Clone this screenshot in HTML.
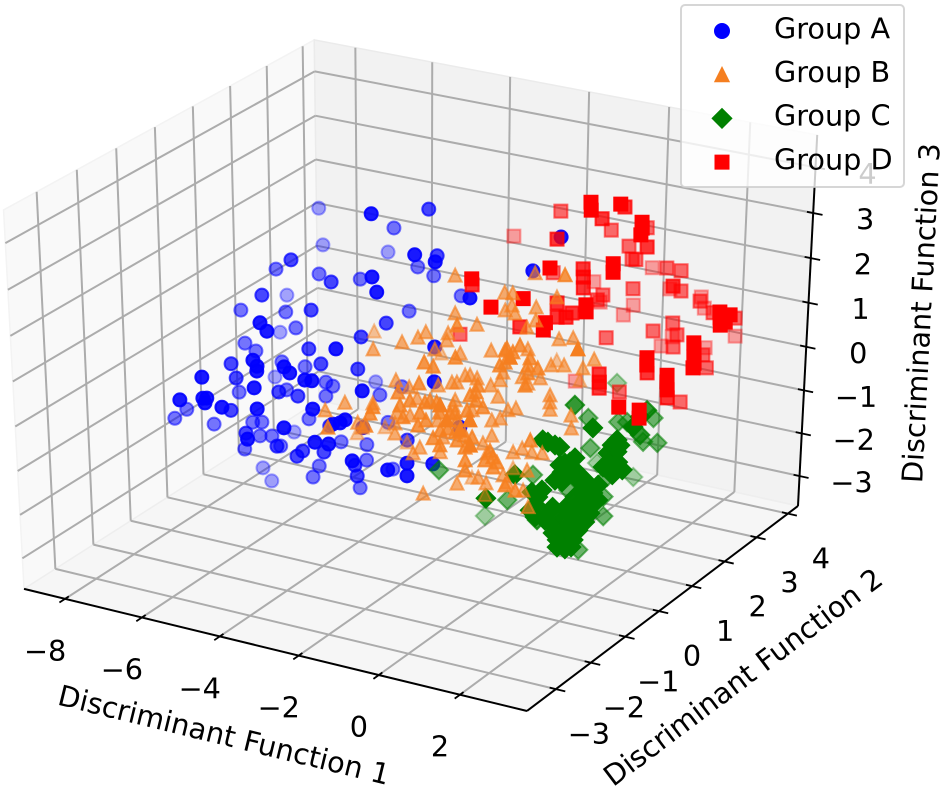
<!DOCTYPE html>
<html lang="en">
<head>
<meta charset="utf-8">
<title>Discriminant function 3D scatter</title>
<style>
html,body{margin:0;padding:0;background:#fff;width:945px;height:791px;overflow:hidden}
svg{display:block}
text{font-family:"DejaVu Sans","Liberation Sans",sans-serif;fill:#000}
</style>
</head>
<body>
<svg id="chart" xmlns="http://www.w3.org/2000/svg" width="945" height="791" viewBox="0 0 945 791">
  <g id="panes"></g>
  <g id="grid"></g>
  <g id="axes"></g>
  <g id="series-a"></g>
  <g id="series-c"></g>
  <g id="series-d"></g>
  <g id="series-b"></g>
  <text x="224" y="735" font-size="28.7" text-anchor="middle" dominant-baseline="central" transform="rotate(13.7 224 735)">Discriminant Function 1</text>
  <text x="743" y="677" font-size="28.7" text-anchor="middle" dominant-baseline="central" transform="rotate(-37 743 677)">Discriminant Function 2</text>
  <text x="921" y="313" font-size="28.7" text-anchor="middle" dominant-baseline="central" transform="rotate(-87 921 313)">Discriminant Function 3</text>
  <g id="legend">
    <rect x="681" y="5" width="223" height="182" rx="4" ry="4" fill="#fff" fill-opacity="0.8" stroke="#ccc" stroke-opacity="0.8" stroke-width="2"></rect>
  </g>
</svg>
<script>
// Axis limits and ticks
const xLim = [-9.08, 3.63];
const yLim = [-3.81, 4.326];
const zLim = [-3.711, 4.703];
const xTicks = [-8, -6, -4, -2, 0, 2];
const yTicks = [-3, -2, -1, 0, 1, 2, 3, 4];
const zTicks = [-3, -2, -1, 0, 1, 2, 3, 4];
const xTickLabels = ['\u22128', '\u22126', '\u22124', '\u22122', '0', '2'];
const yTickLabels = ['\u22123', '\u22122', '\u22121', '0', '1', '2', '3', '4'];
const zTickLabels = ['\u22123', '\u22122', '\u22121', '0', '1', '2', '3', '4'];
const legendLabels = ['Group A', 'Group B', 'Group C', 'Group D'];

// Series values (data units)
const groupAX = [-6.60,-3.84,-3.36,-4.44,-6.25,-4.94,-2.73,-2.86,-2.30,-3.70,
-3.33,-5.59,-6.39,-5.53,-4.67,-4.71,-3.37,-3.17,-2.66,-1.39,
-5.88,-6.57,-6.75,-5.88,-4.84,-3.54,-3.33,-5.13,-4.94,-6.42,
-5.57,-6.43,-3.70,-6.16,-4.60,-3.52,-1.69,-5.96,-4.99,-4.87,
-4.84,-5.59,-4.36,-4.21,-5.11,-4.26,-3.53,-5.82,-5.76,-4.77,
-6.18,-6.19,-3.88,-3.74,-4.60,-4.44,-4.21,-2.73,-3.48,-1.45,
-3.12,-4.85,-5.29,-4.46,-4.50,-6.07,-5.58,-7.05,-7.21,-5.58,
-5.23,-5.62,-6.42,-4.56,-5.70,-5.53,-5.17,-4.52,-5.46,-5.23,
-5.65,-4.49,-4.99,-3.92,-5.41,-5.74,-5.47,-4.04,-3.97,-3.24,
-2.97,-3.56,-3.87,-4.65,-3.52,-4.11,-4.15,-2.41,-2.88,-3.25,
-3.36,-2.76,-3.17,-1.68,-2.68,-2.91,-2.84,-3.04,-2.45,-3.64,
-1.37,-1.28,-0.88,-3.12,-2.08,-0.64,-0.13,-0.41,-5.65];
const groupAY = [1.76,0.23,1.29,1.51,1.49,1.89,0.20,0.97,0.29,1.36,
1.40,-0.08,0.35,0.61,0.02,0.86,-0.27,-0.36,1.43,0.24,
-0.57,0.82,-0.24,0.06,-0.35,0.94,0.07,-1.41,-1.43,0.46,
0.00,-0.48,-0.22,-0.47,-0.68,-1.10,-0.40,-1.34,-1.76,-1.78,
-1.82,-0.37,-1.60,-1.61,-0.25,-0.72,-0.50,-2.25,-1.42,-1.97,
-0.92,0.06,-1.56,-1.52,-0.23,-0.21,0.73,-1.25,0.05,-0.68,
0.27,-1.24,-0.57,-1.14,-0.34,-2.58,-2.38,-1.43,-1.59,-2.43,
-2.35,-1.72,-1.36,-2.12,-1.07,-1.00,-1.80,-2.43,-1.13,-1.05,
-1.35,-1.69,-1.07,-2.09,-0.26,-0.78,-0.83,-1.63,-1.55,-1.99,
-1.91,-1.41,-0.61,-0.65,-1.74,-0.96,-1.09,-1.88,-1.30,-0.58,
-0.45,-1.37,-0.85,-1.71,-0.47,-1.66,-1.60,-1.72,-1.54,-1.16,
-1.52,-1.62,-1.35,-0.12,-0.73,-0.87,1.36,0.89,-2.41];
const groupAZ = [2.53,3.62,3.30,2.59,1.90,1.78,2.94,2.52,2.82,1.93,
1.78,2.45,1.89,1.81,2.08,1.72,2.57,2.32,1.44,2.22,
1.86,1.04,1.20,1.17,1.61,1.18,1.39,1.81,1.67,0.41,
0.90,0.64,1.16,0.51,0.96,1.38,1.41,0.71,1.19,1.09,
1.01,0.32,1.08,0.98,0.24,0.71,0.62,0.91,0.47,0.73,
-0.19,-0.36,0.86,0.85,-0.02,-0.09,-0.44,0.68,-0.24,0.83,
-0.10,0.24,-0.15,0.17,-0.26,0.53,0.56,-0.48,-0.63,0.48,
0.41,-0.07,-0.73,0.38,-0.70,-0.70,-0.45,-0.12,-0.93,-0.93,
-1.15,-0.67,-1.10,0.07,-1.30,-1.91,-2.13,-0.84,-0.75,-0.17,
-0.20,-0.77,-1.03,-0.64,0.38,-1.44,-1.63,-0.48,-0.99,-1.34,
-1.08,-1.17,-1.81,-0.63,-1.49,0.15,0.20,0.13,0.07,-0.33,
-0.52,-0.73,-0.53,-0.70,-0.57,0.08,3.23,2.67,0.56];

const groupBX = [-2.93,-4.62,-3.95,-3.45,-3.18,-3.07,-2.65,-2.15,-1.98,-2.64,
-2.61,-2.77,-3.17,-2.26,-1.78,-2.33,-2.13,-1.69,-0.87,-0.65,
-1.00,-0.80,-0.21,-1.30,-1.30,-0.35,-0.29,-0.90,-0.55,-0.75,
-0.44,-0.89,-0.19,-0.48,-0.22,1.00,0.34,0.19,-0.30,-0.24,
-0.19,-0.13,0.31,0.41,-3.28,-2.27,-2.98,-2.60,-4.09,-2.75,
-1.94,-2.44,-2.20,-2.11,-2.00,-1.91,-1.75,-1.44,-1.22,-1.13,
-1.07,-1.61,-0.89,-2.01,-1.17,-2.01,-1.47,-0.94,-1.29,-1.40,
-1.87,-2.76,-3.03,-2.33,-2.97,-2.98,-3.70,-3.70,-2.98,-2.91,
-3.16,-1.99,-2.19,-2.33,-2.42,-1.61,-1.91,-1.97,-1.14,-0.88,
-0.94,-0.84,-0.77,-1.05,-1.16,-1.02,-0.93,-0.79,-1.16,-1.01,
-0.34,-0.26,-1.65,-1.36,-1.00,-0.81,-1.93,-0.52,-0.38,0.24,
-0.16,0.04,-0.54,0.32,-0.41,-0.12,-0.93,-1.27,0.17,-0.05,
-1.42,-0.31,-0.83,-1.86,-1.70,-1.63,-1.72,-1.51,-1.15,-1.06,-1.18,
-3.67,-4.41,-4.19,-3.58,-3.55,
-1.17,-0.62,-0.51,-0.32,
-1.67,-1.38,-1.53,-1.24,-2.02,-1.80,-1.22,-1.15,-1.03,-0.44,
-0.23,-0.47,-0.89,-0.73,-0.88,-0.36,-0.14,-0.26,-2.32,-2.47,
-2.04,-1.43,-2.97,0.09];
const groupBY = [1.56,1.14,0.38,0.64,0.79,0.89,1.25,1.31,0.55,1.04,
0.97,0.81,1.44,0.96,0.28,0.02,0.05,1.20,0.71,0.83,
1.47,0.58,0.04,1.02,1.10,0.72,0.65,1.20,1.32,1.19,
1.50,2.20,1.59,1.77,1.88,0.57,1.85,1.70,2.20,1.25,
1.19,1.13,1.23,1.13,0.28,-0.19,0.32,-0.41,-0.26,0.29,
-0.25,0.54,0.66,0.70,0.81,0.85,0.87,0.91,0.87,0.14,
0.07,0.58,0.06,0.54,-0.07,0.48,-0.21,-0.90,-0.22,-0.35,
-0.44,0.10,0.03,-0.57,-0.70,-0.77,-0.33,0.43,-0.08,-0.16,
0.46,-0.53,0.25,-0.10,-0.19,-0.53,0.01,0.15,-0.38,-0.25,
-0.38,-0.49,-0.57,0.51,0.63,0.71,0.83,0.90,0.38,0.33,
-0.27,-0.35,0.63,-0.13,0.07,0.08,-0.45,0.52,0.62,0.13,
0.65,0.72,0.26,-0.38,0.23,0.47,1.00,0.58,0.18,0.28,
2.14,1.71,2.10,1.77,1.82,1.72,1.63,1.67,1.87,1.76,1.64,
-1.18,-0.46,0.18,-0.34,-0.07,
-0.83,-0.89,-0.74,-0.94,
-0.28,-0.17,-0.42,-0.33,-0.30,-0.22,0.07,0.21,-0.29,-0.24,
-0.28,-0.35,0.68,0.72,0.52,0.79,0.76,0.54,-0.39,-0.50,
-0.42,-0.54,-0.90,-0.41];
const groupBZ = [1.79,0.43,0.54,0.66,0.74,0.83,1.15,0.96,1.36,0.81,
0.69,0.54,0.05,0.47,0.82,0.74,0.67,0.52,0.97,1.02,
0.54,0.74,1.24,0.02,0.15,0.69,0.56,0.07,0.05,-0.04,
0.27,-0.07,0.27,0.71,0.73,1.38,0.37,0.22,-0.41,-0.24,
-0.36,-0.48,-0.58,-0.80,0.02,0.39,-0.10,0.24,-0.36,-0.29,
0.10,-0.07,-0.02,-0.02,0.10,0.10,0.05,-0.07,-0.26,0.24,
0.10,-0.49,-0.01,-0.32,-0.07,-0.41,-0.12,0.20,-0.23,-0.37,
-0.23,-0.58,-0.53,-0.18,-0.01,-0.12,-0.70,-1.21,-0.71,-0.88,
-1.47,-0.32,-0.66,-1.12,-1.22,-0.53,-1.20,-0.95,-0.57,-0.52,
-0.69,-0.90,-1.07,-0.92,-0.66,-0.63,-0.49,-0.46,-1.05,-1.22,
-0.85,-1.02,-2.07,-1.73,-1.63,-1.73,-1.90,-1.20,-1.14,-0.57,
-1.20,-1.22,-1.59,-1.41,-1.71,-1.51,-1.91,-2.37,-2.13,-1.85,
1.83,2.20,1.42,1.50,1.49,1.28,1.20,1.15,1.25,1.03,0.91,
-0.35,-0.49,-1.31,-0.78,-0.37,
0.45,0.03,0.20,-0.22,
-0.10,-0.10,-0.40,-0.43,0.07,0.07,0.19,0.35,-0.48,-0.74,
-0.94,-0.90,0.94,0.91,0.69,0.81,0.64,0.35,0.10,0.02,
-0.10,-0.65,-0.32,-1.32];

const groupCX = [1.81,1.98,2.16,1.86,2.07,2.25,1.99,2.15,2.29,2.04,
2.20,2.30,1.32,1.39,1.41,1.62,2.08,2.22,2.13,2.32,
2.24,2.39,2.22,2.41,1.58,1.67,1.59,1.69,1.66,1.82,
1.11,1.26,1.00,1.37,2.33,2.47,2.31,2.41,2.56,2.47,
2.32,1.85,0.83,0.73,0.36,-0.28,-1.11,0.03,0.95,0.66,
0.92,0.65,1.45,1.45,1.53,1.67,0.81,1.44,1.26,1.43,
2.28,1.88,2.16,1.90,2.23,2.65,2.59,0.44,-1.80,2.01,2.38,
1.17,1.35,1.27,1.67,1.91,2.31,1.86,2.13,2.36,2.46,
1.95,1.50,1.52,1.73,2.48,2.70,2.55,2.39];
const groupCY = [-0.90,-0.87,-0.85,-1.01,-0.97,-0.90,-1.10,-1.06,-0.99,-1.16,
-1.12,-1.06,-0.89,-0.97,-1.07,-1.03,-0.43,-0.45,-0.55,-0.48,
-0.61,-0.56,-0.73,-0.66,-0.43,-0.39,-0.52,-0.50,-0.60,-0.42,
-0.38,-0.35,-0.40,-0.34,0.04,0.02,-0.05,-0.11,-0.06,-0.18,
-0.20,0.04,0.72,-0.87,-1.26,0.09,0.40,0.47,-0.47,1.33,
1.10,1.64,0.98,1.78,0.79,0.63,0.60,0.18,1.51,1.57,
0.93,1.52,1.61,1.79,1.18,0.46,0.33,2.44,-0.15,-0.63,-0.77,
-0.89,-0.81,-1.05,-0.87,-0.79,-0.88,-1.07,-0.68,-0.38,-0.50,
-0.48,-0.48,-0.64,-0.32,0.09,-0.09,-0.20,0.11];
const groupCZ = [-1.38,-1.43,-1.49,-1.58,-1.63,-1.63,-1.79,-1.83,-1.79,-1.91,
-1.94,-1.91,-1.08,-1.25,-1.41,-1.46,-0.80,-0.91,-1.01,-1.01,
-1.18,-1.18,-1.35,-1.35,-0.52,-0.50,-0.67,-0.68,-0.83,-0.63,
-0.17,-0.22,-0.13,-0.25,-0.22,-0.33,-0.35,-0.50,-0.50,-0.63,
-0.58,0.07,0.02,-0.71,-1.10,-2.02,-2.73,-1.59,-1.91,-0.63,
-1.14,-1.83,-1.63,-2.07,-1.96,-2.29,-1.85,-2.86,-0.70,-0.70,
-0.48,-1.03,-1.05,-0.63,-0.07,0.25,0.08,-0.46,-1.51,-1.08,-1.49,
-1.00,-0.96,-1.30,-1.25,-1.26,-1.63,-1.68,-1.21,-0.88,-1.13,
-0.80,-0.55,-0.80,-0.43,-0.22,-0.63,-0.71,-0.13];

const groupDX = [0.18,0.24,0.75,0.33,-1.39,-0.02,-0.29,1.28,1.32,0.38,
1.35,0.17,1.04,0.32,0.40,0.26,1.05,1.34,1.04,1.10,
-0.72,-2.64,-0.11,-1.08,-0.01,0.05,0.13,-0.76,0.03,-0.04,
-0.49,0.56,0.17,1.81,0.76,1.49,0.05,0.83,0.88,0.10,
0.02,-0.25,-0.15,-0.39,0.20,0.21,-0.78,0.41,1.25,1.57,
1.74,1.16,1.01,1.75,1.42,1.93,1.56,2.26,3.38,3.43,
3.48,3.59,2.72,2.36,3.12,3.17,3.22,3.27,3.28,1.87,
2.38,2.54,2.35,2.40,1.96,2.85,2.90,2.96,2.52,2.29,
1.06,1.12,1.16,-0.38,1.06,2.18,2.58,2.64,-1.49,-1.99,
-2.40,-0.93,3.55];
const groupDY = [1.84,1.78,2.03,2.67,2.83,2.42,3.03,2.03,1.99,3.30,
1.92,3.02,2.50,2.94,2.96,3.64,3.11,3.19,1.50,1.43,
1.94,2.92,1.03,2.27,1.88,1.82,1.73,3.11,2.44,2.36,
2.99,2.70,3.20,2.37,3.59,3.02,3.05,0.98,0.93,1.45,
1.37,1.42,1.31,0.60,0.56,0.49,0.97,2.11,2.50,2.70,
2.63,3.21,3.06,2.51,3.75,3.07,3.68,3.07,1.85,1.80,
1.75,1.90,3.18,3.67,1.42,1.37,1.31,1.26,1.22,3.36,
2.65,2.57,0.98,0.92,1.48,0.98,0.92,0.86,1.42,2.11,
1.14,1.08,1.03,2.16,1.76,0.39,0.51,0.44,0.40,0.98,
1.11,0.31,1.81];
const groupDZ = [3.81,3.68,3.78,3.34,2.87,3.14,2.55,3.48,3.38,2.59,
3.27,2.28,2.67,2.06,2.05,1.51,1.91,1.86,2.79,2.65,
2.80,2.05,2.72,1.83,2.30,2.16,1.98,1.27,1.45,1.37,
0.92,1.56,0.87,2.01,1.15,1.52,0.70,2.11,1.99,1.56,
1.49,1.73,1.49,2.21,1.81,1.69,1.33,0.73,0.84,0.98,
0.78,0.33,0.17,0.57,1.01,1.35,0.82,1.15,1.99,1.89,
1.77,1.94,1.06,0.34,1.48,1.36,1.24,1.14,1.06,0.14,
0.44,0.22,1.23,1.11,0.56,0.94,0.83,0.70,0.14,-0.36,
0.54,0.40,0.30,-0.43,-0.19,0.41,0.36,0.23,2.54,2.03,
0.79,2.07,1.82];

const SVG_NS = 'http://www.w3.org/2000/svg';
const elev = 30 * Math.PI / 180;
const azim = -60 * Math.PI / 180;
const viewW = [Math.cos(elev) * Math.cos(azim), Math.cos(elev) * Math.sin(azim), Math.sin(elev)];
const viewU = [-Math.sin(azim), Math.cos(azim), 0];
const viewV = [-Math.sin(elev) * Math.cos(azim), -Math.sin(elev) * Math.sin(azim), Math.cos(elev)];

function project(x, y, z) {
  const a = (x - xLim[0]) / (xLim[1] - xLim[0]) - 0.5;
  const b = (y - yLim[0]) / (yLim[1] - yLim[0]) - 0.5;
  const c = (z - zLim[0]) / (zLim[1] - zLim[0]) - 0.5;
  const xv = viewU[0] * a + viewU[1] * b + viewU[2] * c;
  const yv = viewV[0] * a + viewV[1] * b + viewV[2] * c;
  const depth = viewW[0] * a + viewW[1] * b + viewW[2] * c;
  const d = 10 - depth;
  return { sx: 417 + 5806 * xv / d, sy: 364 - 4327 * yv / d, depth: depth };
}

function make(tag, attrs, parent) {
  const el = document.createElementNS(SVG_NS, tag);
  Object.keys(attrs).forEach(function (k) { el.setAttribute(k, attrs[k]); });
  parent.appendChild(el);
  return el;
}

function segment(p, q, stroke, width, parent) {
  return make('line', { x1: p.sx, y1: p.sy, x2: q.sx, y2: q.sy, stroke: stroke, 'stroke-width': width }, parent);
}

function polyPoints(corners) {
  return corners.map(function (c) {
    const p = project(c[0], c[1], c[2]);
    return p.sx + ',' + p.sy;
  }).join(' ');
}

const X0 = xLim[0], X1 = xLim[1], Y0 = yLim[0], Y1 = yLim[1], Z0 = zLim[0], Z1 = zLim[1];
const xSpan = X1 - X0, ySpan = Y1 - Y0;

// Panes
const panesG = document.getElementById('panes');
const leftPane = make('polygon', { points: polyPoints([[X0,Y0,Z0],[X0,Y1,Z0],[X0,Y1,Z1],[X0,Y0,Z1]]), fill: '#f9f9f9', stroke: '#f3f3f3', 'stroke-width': 1.5 }, panesG);


const backPane = make('polygon', { points: polyPoints([[X0,Y1,Z0],[X1,Y1,Z0],[X1,Y1,Z1],[X0,Y1,Z1]]), fill: '#f2f2f2', stroke: '#ebebeb', 'stroke-width': 1.5 }, panesG);


const floorPane = make('polygon', { points: polyPoints([[X0,Y0,Z0],[X1,Y0,Z0],[X1,Y1,Z0],[X0,Y1,Z0]]), fill: '#f6f6f6', stroke: '#eeeeee', 'stroke-width': 1.5 }, panesG);



// Grid
const gridG = document.getElementById('grid');
const GRID = '#acacac', GW = 2;
xTicks.forEach(function (t) {
  const floorLine = segment(project(t, Y0, Z0), project(t, Y1, Z0), GRID, GW, gridG);
  
  
  const wallLine = segment(project(t, Y1, Z0), project(t, Y1, Z1), GRID, GW, gridG);
  
  
});
yTicks.forEach(function (t) {
  const floorLine = segment(project(X0, t, Z0), project(X1, t, Z0), GRID, GW, gridG);
  
  
  const wallLine = segment(project(X0, t, Z0), project(X0, t, Z1), GRID, GW, gridG);
  
  
});
zTicks.forEach(function (t) {
  const leftLine = segment(project(X0, Y0, t), project(X0, Y1, t), GRID, GW, gridG);
  
  
  const backLine = segment(project(X0, Y1, t), project(X1, Y1, t), GRID, GW, gridG);
  
  
});

// Axes, ticks, tick labels
const axesG = document.getElementById('axes');
const xAxisLine = segment(project(X0, Y0, Z0), project(X1, Y0, Z0), '#000', 2, axesG);


const yAxisLine = segment(project(X1, Y0, Z0), project(X1, Y1, Z0), '#000', 2, axesG);


const zAxisLine = segment(project(X1, Y1, Z0), project(X1, Y1, Z1), '#000', 2, axesG);



function tickLabel(p, dx, dy, label, parent) {
  const t = make('text', { x: p.sx + dx, y: p.sy + dy, 'font-size': 28.7, 'text-anchor': 'middle', 'dominant-baseline': 'central' }, parent);
  t.textContent = label;
  return t;
}

xTicks.forEach(function (t, i) {
  const mark = segment(project(t, Y0 + 0.012 * ySpan, Z0), project(t, Y0 - 0.018 * ySpan, Z0), '#000', 1.8, axesG);
  
  
  const lab = tickLabel(project(t, Y0, Z0), -20, 52, xTickLabels[i], axesG);
  
  
});
yTicks.forEach(function (t, i) {
  const mark = segment(project(X1 - 0.012 * xSpan, t, Z0), project(X1 + 0.018 * xSpan, t, Z0), '#000', 1.8, axesG);
  
  
  const lab = tickLabel(project(X1, t, Z0), 33, 45, yTickLabels[i], axesG);
  
  
});
zTicks.forEach(function (t, i) {
  const mark = segment(project(X1 - 0.012 * xSpan, Y1, t), project(X1 + 0.018 * xSpan, Y1, t), '#000', 1.8, axesG);
  
  
  const lab = tickLabel(project(X1, Y1, t), 52, 6.5, zTickLabels[i], axesG);
  
  
});

// Markers
function markerPath(kind, cx, cy) {
  const r = 6.5, h = 9.2;
  if (kind === 'triangle') return 'M' + cx + ',' + (cy - r) + 'L' + (cx + r) + ',' + (cy + r) + 'L' + (cx - r) + ',' + (cy + r) + 'Z';
  if (kind === 'diamond') return 'M' + cx + ',' + (cy - h) + 'L' + (cx + h) + ',' + cy + 'L' + cx + ',' + (cy + h) + 'L' + (cx - h) + ',' + cy + 'Z';
  return 'M' + (cx - r) + ',' + (cy - r) + 'L' + (cx + r) + ',' + (cy - r) + 'L' + (cx + r) + ',' + (cy + r) + 'L' + (cx - r) + ',' + (cy + r) + 'Z';
}

function drawSeries(groupId, pointName, kind, color, minAlpha, maxAlpha, xs, ys, zs) {
  const parent = document.getElementById(groupId);
  const pts = xs.map(function (x, i) { return project(x, ys[i], zs[i]); });
  const depths = pts.map(function (p) { return p.depth; });
  const lo = Math.min.apply(null, depths), hi = Math.max.apply(null, depths);
  pts.sort(function (p, q) { return p.depth - q.depth; });
  pts.forEach(function (p) {
    const alpha = minAlpha + (maxAlpha - minAlpha) * (p.depth - lo) / ((hi - lo) || 1);
    const style = { fill: color, stroke: color, 'stroke-width': 2, 'fill-opacity': alpha, 'stroke-opacity': alpha };
    let el;
    if (kind === 'circle') {
      style.cx = p.sx; style.cy = p.sy; style.r = 6.5;
      el = make('circle', style, parent);
    } else {
      style.d = markerPath(kind, p.sx, p.sy);
      el = make('path', style, parent);
    }
    
    
  });
}

drawSeries('series-a', 'group-a-point', 'circle', '#0000ff', 0.35, 0.9, groupAX, groupAY, groupAZ);
drawSeries('series-c', 'group-c-point', 'diamond', '#008000', 0.35, 1, groupCX, groupCY, groupCZ);
drawSeries('series-d', 'group-d-point', 'square', '#ff0000', 0.35, 1, groupDX, groupDY, groupDZ);
drawSeries('series-b', 'group-b-point', 'triangle', '#f57f20', 0.45, 1, groupBX, groupBY, groupBZ);

// Legend
const legendG = document.getElementById('legend');
const legendKinds = ['circle', 'triangle', 'diamond', 'square'];
const legendColors = ['#0000ff', '#f57f20', '#008000', '#ff0000'];
legendLabels.forEach(function (label, i) {
  const my = 31 + 43.7 * i;
  let key;
  if (legendKinds[i] === 'circle') {
    key = make('circle', { cx: 722, cy: my, r: 7, fill: legendColors[i], stroke: legendColors[i], 'stroke-width': 2 }, legendG);
  } else {
    key = make('path', { d: markerPath(legendKinds[i], 722, my), fill: legendColors[i], stroke: legendColors[i], 'stroke-width': 2 }, legendG);
  }
  
  
  const txt = make('text', { x: 774, y: 38.5 + 43.6 * i, 'font-size': 28.7 }, legendG);
  txt.textContent = label;
  
  
});
</script>
</body>
</html>
